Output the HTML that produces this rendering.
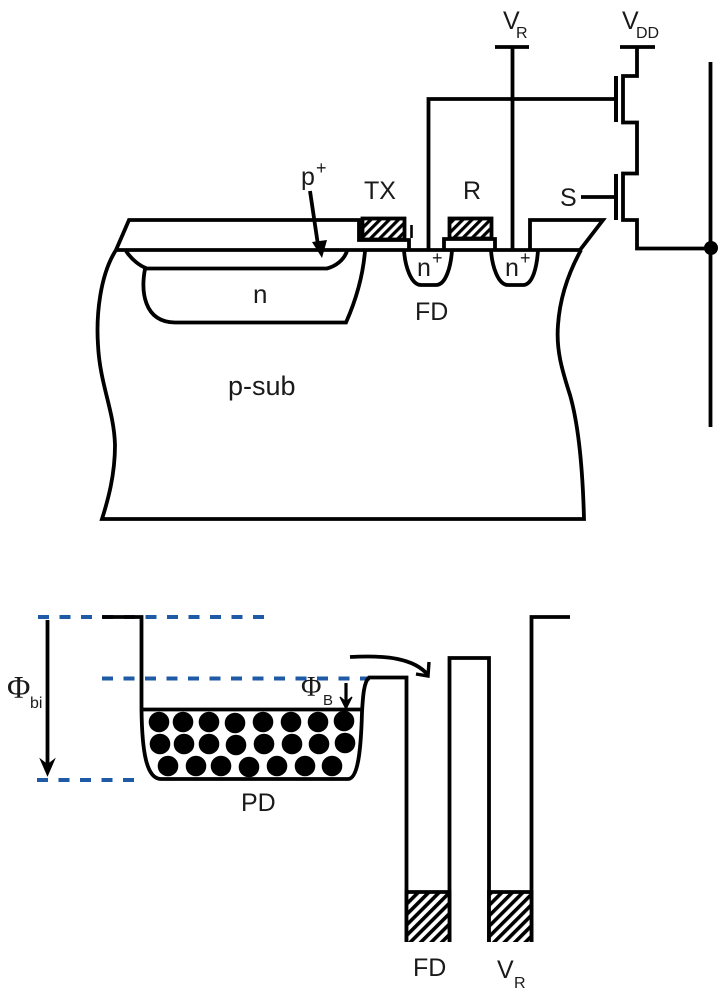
<!DOCTYPE html>
<html>
<head>
<meta charset="utf-8">
<style>
html,body{margin:0;padding:0;background:#fff}
svg{display:block}
text{font-family:"Liberation Sans",sans-serif;fill:#1a1a1a}
.s{font-family:"Liberation Serif",serif}
</style>
</head>
<body>
<svg width="727" height="1000" viewBox="0 0 727 1000" xmlns="http://www.w3.org/2000/svg">
<defs>
<pattern id="h1" width="6.5" height="6.5" patternUnits="userSpaceOnUse" patternTransform="rotate(45)">
<rect width="6.5" height="6.5" fill="#fff"/><rect width="3.2" height="6.5" fill="#000"/>
</pattern>
<pattern id="h2" width="7.4" height="7.4" patternUnits="userSpaceOnUse" patternTransform="rotate(45)">
<rect width="7.4" height="7.4" fill="#fff"/><rect width="3.6" height="7.4" fill="#000"/>
</pattern>
</defs>

<g fill="none" stroke="#000" stroke-width="3.8">
<path d="M116,250 C100,275 96,315 98,345 C100,385 114,410 115,445 C115,475 108,500 102,519 L584,519 C583,480 580,430 570,395 C562,370 556,350 558,325 C560,295 570,270 581,250"/>
<path d="M116,250 L582,250"/>
<path d="M116,250 L129,220 L359,220 L359,240 L409,240 L409,250"/>
<path d="M411.500,225 L411.500,238" stroke-width="2.600"/>
<rect x="362.500" y="218.500" width="42" height="21" fill="url(#h1)"/>
<rect x="449.500" y="218.500" width="42" height="20" fill="url(#h1)"/>
<path d="M444,250 L444,239 L495,239 L495,250"/>
<path d="M530,250 L530,220 L603,220 L580,250"/>
<path d="M404,250 C405,266 411,285 421,285 L436,285 C446,285 451,266 452,250"/>
<path d="M491,250 C492,266 498,285 508,285 L523,285 C533,285 537,266 538,250"/>
<path d="M126,251 C132,260 140,266 147,268.500 L327,268.500 C336,266 344,260 347,251"/>
<path d="M145,269 C141,290 143,322 175,322.500 L346,322.500 C356,300 363,275 365,251"/>
<path d="M428.500,250 L428.500,99 L616,99"/>
<path d="M512.500,250 L512.500,47"/>
<path d="M495,47 L529,47"/>
<path d="M620,47 L655,47"/>
<path d="M637,47 L637,76 L623,76 L623,122.500 L637,122.500 L637,173.500 L623,173.500 L623,220 L637,220 L637,248.500 L710,248.500"/>
<path d="M616,76 L616,122" stroke-width="4"/>
<path d="M616,174 L616,220" stroke-width="4"/>
<path d="M581,197 L616,197"/>
<path d="M710.500,62 L710.500,427"/>
</g>
<circle cx="711" cy="248" r="7" fill="#000"/>

<path d="M310,191 L318,245" stroke="#000" stroke-width="3.800" fill="none"/>
<path d="M312,242 L327,240 L322,258 Z" fill="#000"/>

<text x="301" y="185" font-size="25">p</text>
<text x="316" y="174" font-size="18">+</text>
<text x="364" y="199" font-size="25">TX</text>
<text x="463" y="199" font-size="25">R</text>
<text x="560" y="206" font-size="25">S</text>
<text x="417" y="276" font-size="25">n</text>
<text x="432" y="264" font-size="18">+</text>
<text x="505" y="276" font-size="25">n</text>
<text x="520" y="264" font-size="18">+</text>
<text x="415" y="320" font-size="25">FD</text>
<text x="253" y="303" font-size="26">n</text>
<text x="228" y="395" font-size="27">p-sub</text>
<text x="503" y="29" font-size="25">V</text>
<text x="516" y="38" font-size="16">R</text>
<text x="622" y="29" font-size="25">V</text>
<text x="636" y="38" font-size="16">DD</text>

<g stroke="#1f5aa6" stroke-width="4" fill="none" stroke-dasharray="11 10.500">
<path d="M38,617 L265,617"/>
<path d="M102,678.500 L370,678.500"/>
<path d="M37,780 L135,780"/>
</g>

<g fill="none" stroke="#000" stroke-width="3.800">
<path d="M102,617 L141.500,617 L141.500,709 C142,750 146,779 161,779 L348,779 C358,779 361,750 362,712 C363,695 364,682 369,677.500 L406.500,677.500 L406.500,942"/>
<path d="M142,709.500 L362,709.500"/>
<path d="M449.500,942 L449.500,658 L489,658 L489,942"/>
<path d="M531.500,942 L531.500,617 L570,617"/>
<path d="M350,657 C385,655 414,658 428,675"/>
<path d="M429,662 L428,676 L416,674" stroke-width="3.400"/>
</g>
<rect x="408" y="892" width="40" height="50" fill="url(#h2)"/>
<rect x="490.500" y="892" width="39.500" height="50" fill="url(#h2)"/>
<g fill="none" stroke="#000" stroke-width="3.800">
<path d="M406.500,892 L449.500,892"/>
<path d="M489,892 L531.500,892"/>
<path d="M406.500,890 L406.500,942"/>
<path d="M449.500,890 L449.500,942"/>
<path d="M489,890 L489,942"/>
<path d="M531.500,890 L531.500,942"/>
</g>

<g fill="#000">
<circle cx="159" cy="722" r="10.300"/><circle cx="183" cy="722" r="10.300"/><circle cx="209" cy="722" r="10.300"/><circle cx="235" cy="723" r="10.300"/><circle cx="263" cy="722" r="10.300"/><circle cx="291" cy="722" r="10.300"/><circle cx="318" cy="722" r="10.300"/><circle cx="344" cy="721" r="10.300"/>
<circle cx="160" cy="744" r="10.300"/><circle cx="184" cy="744" r="10.300"/><circle cx="209" cy="744" r="10.300"/><circle cx="236" cy="745" r="10.300"/><circle cx="264" cy="744" r="10.300"/><circle cx="292" cy="744" r="10.300"/><circle cx="319" cy="744" r="10.300"/><circle cx="345" cy="743" r="10.300"/>
<circle cx="168" cy="766" r="10.300"/><circle cx="196" cy="766" r="10.300"/><circle cx="221" cy="766" r="10.300"/><circle cx="249" cy="767" r="10.300"/><circle cx="277" cy="766" r="10.300"/><circle cx="305" cy="766" r="10.300"/><circle cx="332" cy="766" r="10.300"/>
</g>

<path d="M47.500,620 L47.500,770" stroke="#000" stroke-width="3.800" fill="none"/>
<path d="M41,760 L47.500,765 L54,760 L47.500,775 Z" fill="#000" stroke="#000" stroke-width="1.500"/>
<path d="M346,683 L346,706" stroke="#000" stroke-width="3.200" fill="none"/>
<path d="M340,697 L346,702 L352,697 L346,709 Z" fill="#000" stroke="#000" stroke-width="1.200"/>

<text class="s" x="7" y="698" font-size="32">Φ</text>
<text x="30" y="708" font-size="16">bi</text>
<text class="s" x="301" y="696" font-size="28">Φ</text>
<text x="323" y="705" font-size="15">B</text>
<text x="241" y="811" font-size="25">PD</text>
<text x="413" y="976" font-size="25">FD</text>
<text x="497" y="978" font-size="25">V</text>
<text x="514" y="988" font-size="16">R</text>
</svg>
</body>
</html>
